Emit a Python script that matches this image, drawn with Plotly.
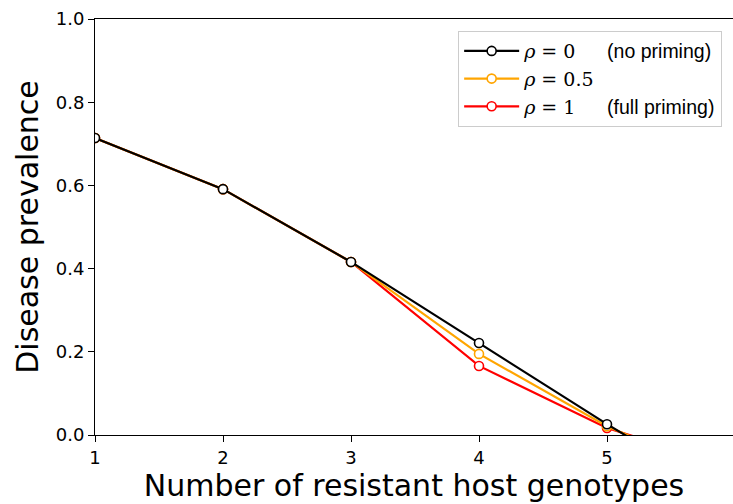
import plotly.graph_objects as go

genotypes = [1, 2, 3, 4, 5, 6]
prev_rho0 = [0.714, 0.591, 0.416, 0.221, 0.026, -0.16]
prev_rho05 = [0.714, 0.591, 0.416, 0.195, 0.021, -0.11]
prev_rho1 = [0.714, 0.591, 0.416, 0.166, 0.017, -0.08]

serif = "'DejaVu Serif', 'Liberation Serif', serif"
names = {
    "rho0": f"<span style=\"font-family:{serif}\"><i>ρ</i> = 0</span>&nbsp;&nbsp;&nbsp;&nbsp;&nbsp;&nbsp;<span style=\"font-size:19.5px\">(no priming)</span>",
    "rho05": f"<span style=\"font-family:{serif}\"><i>ρ</i> = 0.5</span>",
    "rho1": f"<span style=\"font-family:{serif}\"><i>ρ</i> = 1</span>&nbsp;&nbsp;&nbsp;&nbsp;&nbsp;&nbsp;<span style=\"font-size:19.5px\">(full priming)</span>",
}

fig = go.Figure()
series = [
    (prev_rho1, "red", names["rho1"]),
    (prev_rho05, "orange", names["rho05"]),
    (prev_rho0, "black", names["rho0"]),
]
for vals, col, nm in series:
    fig.add_trace(go.Scatter(
        x=genotypes, y=vals, mode="lines+markers", name=nm,
        line=dict(color=col, width=2.2),
        marker=dict(symbol="circle", size=9, color="white",
                    line=dict(color=col, width=1.6)),
    ))

fig.update_layout(
    width=733, height=504,
    margin=dict(l=95, r=0, t=19, b=69),
    plot_bgcolor="white", paper_bgcolor="white",
    font=dict(family="DejaVu Sans", size=18, color="black"),
    showlegend=True,
    legend=dict(
        x=0.983, y=0.971, xanchor="right", yanchor="top",
        traceorder="reversed",
        bgcolor="white", bordercolor="#cccccc", borderwidth=1,
        font=dict(family="Liberation Sans, Arial", size=19, color="black"),
        itemwidth=55,
    ),
    xaxis=dict(
        range=[1, 1 + 638 / 128], tickvals=genotypes, ticktext=[str(g) for g in genotypes],
        showgrid=False, zeroline=False, showline=True, linecolor="black", linewidth=1,
        mirror=True, ticks="outside", ticklen=6, tickcolor="black", automargin=False,
        tickfont=dict(size=18),
        title=dict(text="Number of resistant host genotypes", font=dict(size=30), standoff=8),
    ),
    yaxis=dict(
        range=[0, 1], tickvals=[0, 0.2, 0.4, 0.6, 0.8, 1.0], tickformat=".1f",
        showgrid=False, zeroline=False, showline=True, linecolor="black", linewidth=1,
        ticks="outside", ticklen=6, tickcolor="black", automargin=False,
        tickfont=dict(size=18),
        title=dict(text="Disease prevalence", font=dict(size=30), standoff=8),
    ),
)

fig.write_html("out.html", config={"displayModeBar": False},
               post_script="document.body.style.margin='0px';")
